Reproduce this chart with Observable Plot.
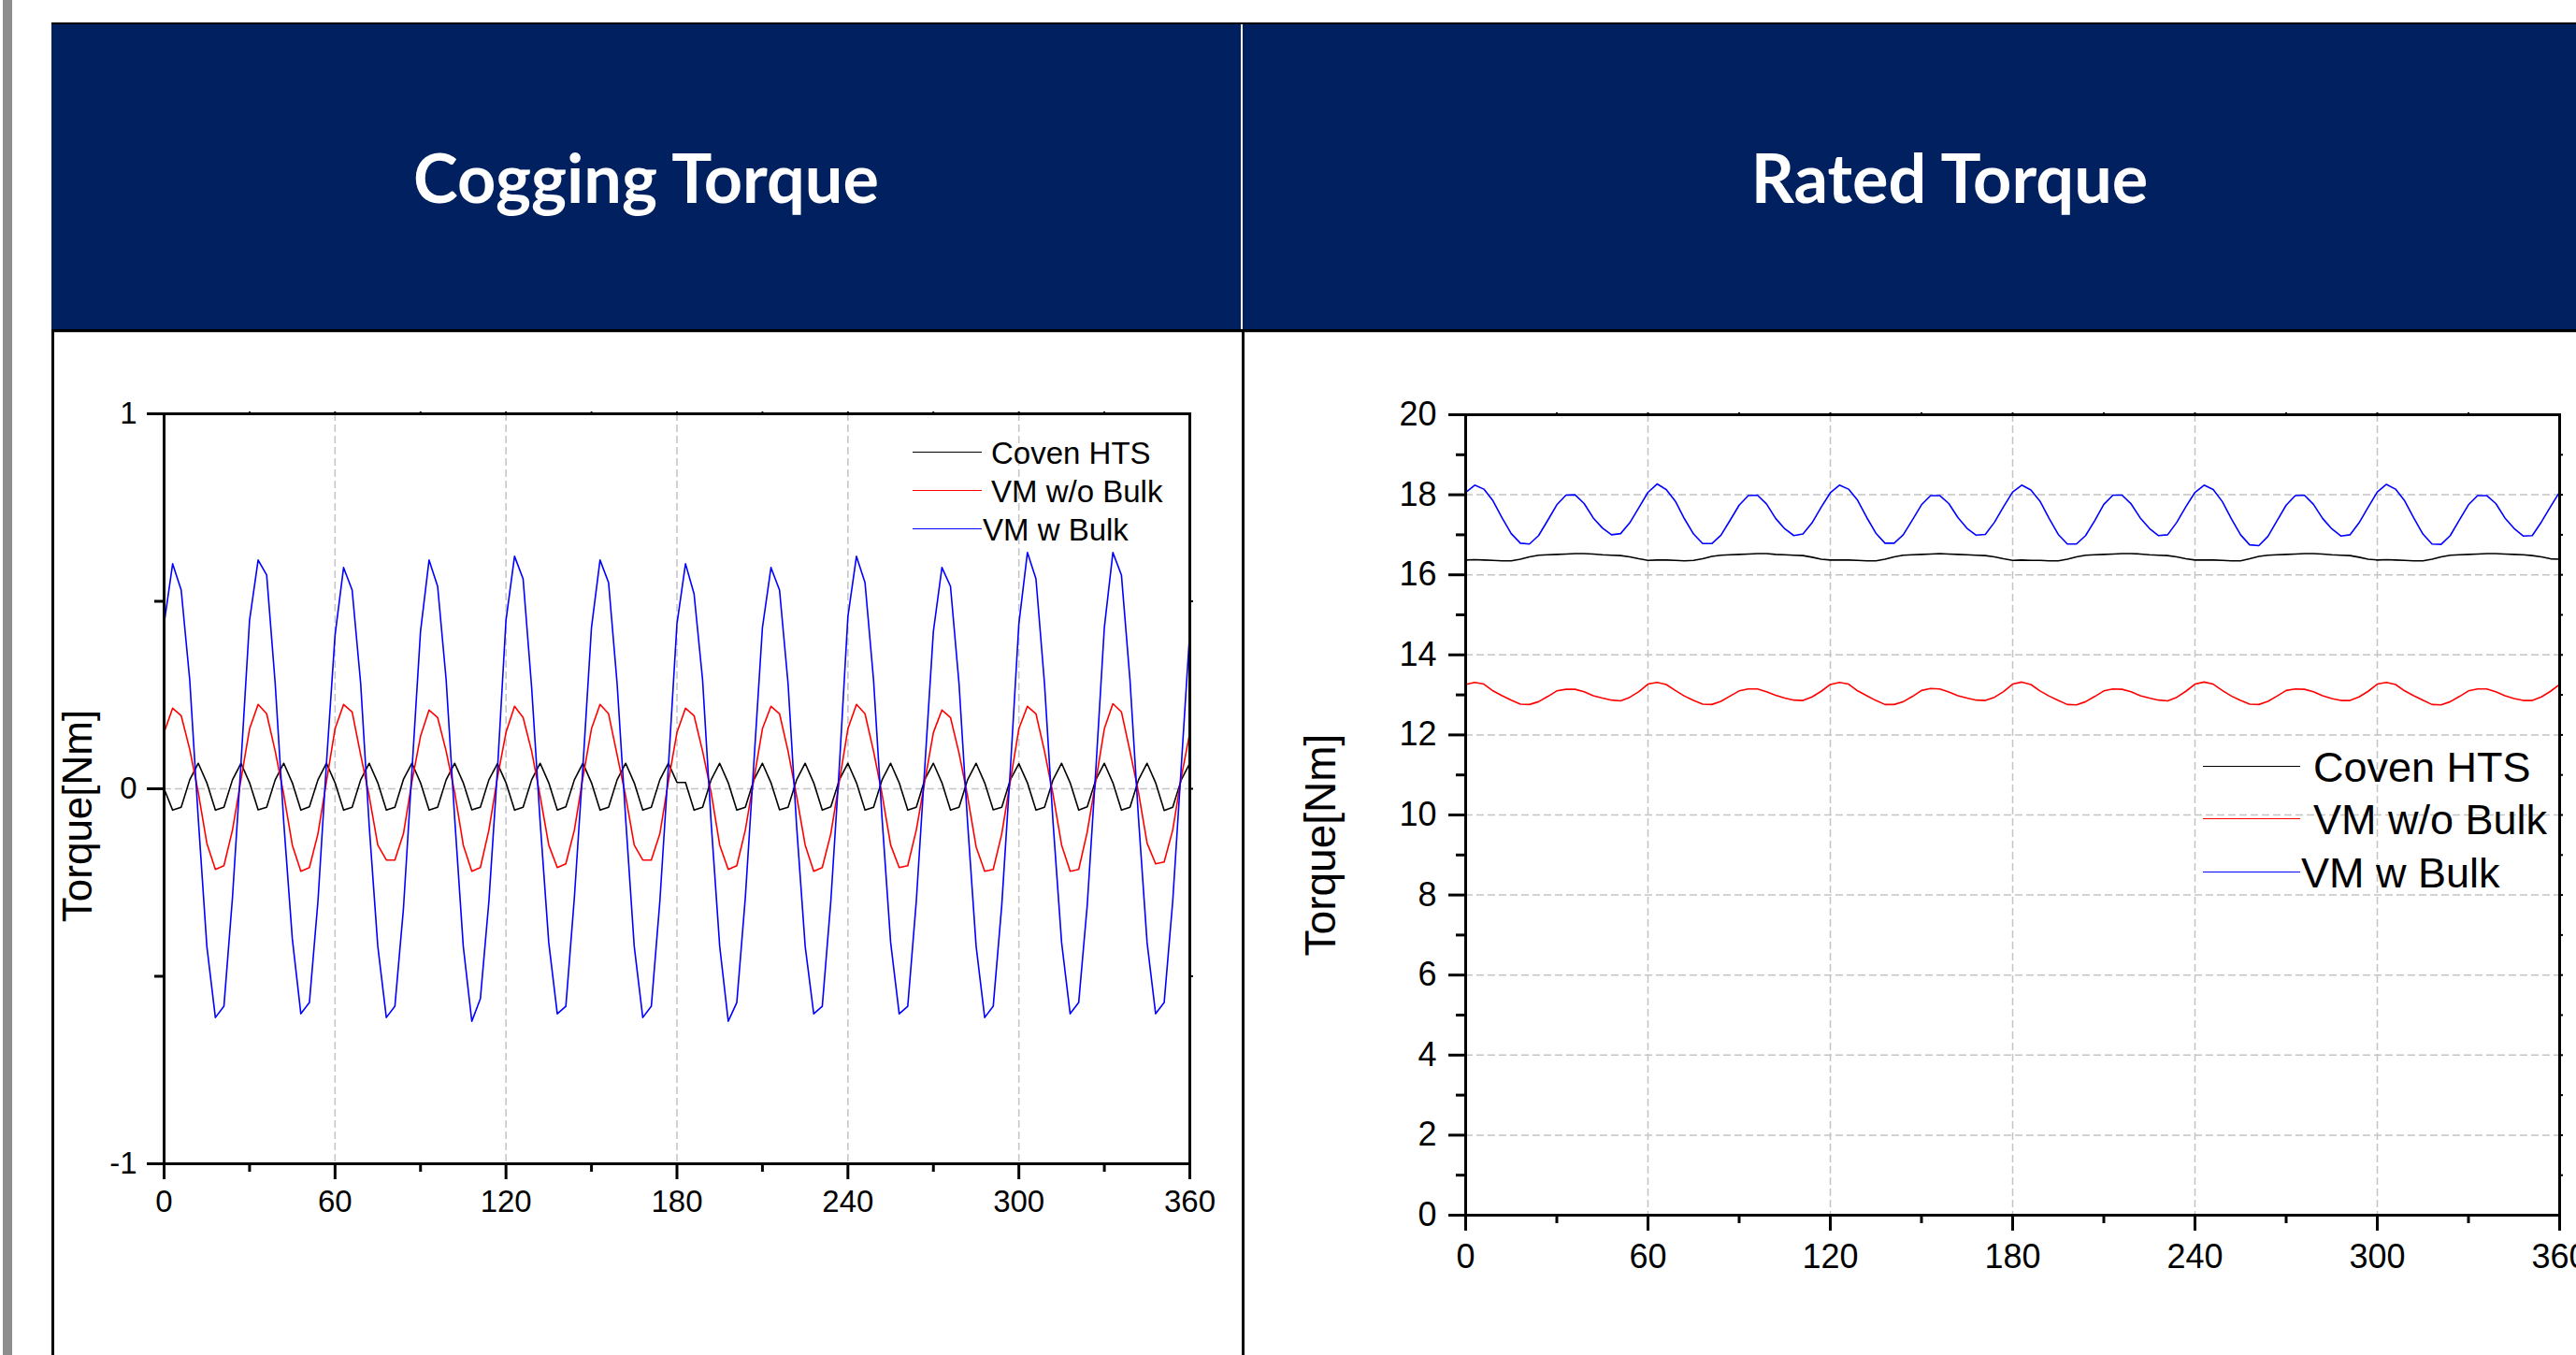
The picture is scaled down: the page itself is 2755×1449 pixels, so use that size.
<!DOCTYPE html>
<html>
<head>
<meta charset="utf-8">
<script src="https://cdn.jsdelivr.net/npm/d3@7"></script>
<script src="https://cdn.jsdelivr.net/npm/@observablehq/plot@0.6"></script>
<style>
  html, body { margin: 0; padding: 0; background: #ffffff; }
  body { width: 2755px; height: 1449px; position: relative; overflow: hidden; font-family: 'Liberation Sans', Arial, sans-serif; }
  .abs { position: absolute; }
  .title { position: absolute; color: #ffffff; font-family: Lato, 'Open Sans', sans-serif; font-weight: 700; font-size: 72px; line-height: 72px; text-align: center; white-space: nowrap; }
  .leg { position: absolute; color: #000; white-space: nowrap; font-family: 'Liberation Sans', Arial, sans-serif; }
</style>
</head>
<body>
<script>
// ---------------- DATA ----------------
const panelTitles = ["Cogging Torque", "Rated Torque"];
const yLabel = "Torque[Nm]";
const seriesNames = ["Coven HTS", "VM w/o Bulk", "VM w Bulk"];
const seriesColors = ["#000000", "#ff0000", "#0000ff"];

const angles = [0,3,6,9,12,15,18,21,24,27,30,33,36,39,42,45,48,51,54,57,60,63,66,69,72,75,78,81,84,87,90,93,96,99,102,105,108,111,114,117,120,123,126,129,132,135,138,141,144,147,150,153,156,159,162,165,168,171,174,177,180,183,186,189,192,195,198,201,204,207,210,213,216,219,222,225,228,231,234,237,240,243,246,249,252,255,258,261,264,267,270,273,276,279,282,285,288,291,294,297,300,303,306,309,312,315,318,321,324,327,330,333,336,339,342,345,348,351,354,357,360];

// Cogging torque [Nm]
const cogCoven = [0.000,
  -0.057,-0.049,0.024,0.068,0.016, -0.057,-0.049,0.024,0.068,0.016, -0.056,-0.049,0.024,0.068,0.016,
  -0.057,-0.048,0.024,0.068,0.016, -0.057,-0.049,0.024,0.068,0.016, -0.057,-0.049,0.025,0.068,0.016,
  -0.057,-0.049,0.024,0.068,0.016, -0.056,-0.049,0.024,0.067,0.016, -0.057,-0.049,0.024,0.068,0.016,
  -0.057,-0.048,0.024,0.068,0.016, -0.057,-0.049,0.024,0.068,0.016, -0.057,-0.049,0.024,0.068,0.017,
  0.017,-0.057,-0.049,0.024,0.068, 0.016,-0.057,-0.049,0.024,0.068, 0.016,-0.056,-0.049,0.024,0.068,
  0.016,-0.057,-0.048,0.024,0.068, 0.016,-0.057,-0.049,0.024,0.068, 0.016,-0.057,-0.049,0.025,0.068,
  0.016,-0.057,-0.049,0.024,0.068, 0.016,-0.056,-0.049,0.024,0.067, 0.016,-0.057,-0.049,0.024,0.068,
  0.016,-0.057,-0.048,0.024,0.068, 0.016,-0.057,-0.049,0.024,0.068, 0.016,-0.058,-0.049,0.024,0.068];

const cogVMwo = [
  0.150,0.215,0.195,0.105,-0.010,-0.145,-0.215,-0.205,-0.110,0.025,
  0.160,0.225,0.200,0.100,-0.015,-0.150,-0.220,-0.210,-0.120,0.020,
  0.160,0.225,0.205,0.090,-0.020,-0.150,-0.190,-0.190,-0.120,0.020,
  0.140,0.210,0.190,0.100,-0.010,-0.150,-0.220,-0.210,-0.110,0.030,
  0.150,0.220,0.190,0.100,-0.020,-0.150,-0.210,-0.200,-0.110,0.030,
  0.160,0.225,0.200,0.090,-0.020,-0.150,-0.190,-0.190,-0.120,0.020,
  0.150,0.215,0.195,0.100,-0.010,-0.150,-0.215,-0.205,-0.110,0.025,
  0.160,0.220,0.200,0.100,-0.020,-0.150,-0.220,-0.210,-0.120,0.020,
  0.160,0.225,0.200,0.100,-0.015,-0.150,-0.210,-0.205,-0.110,0.020,
  0.150,0.210,0.190,0.095,-0.020,-0.155,-0.220,-0.215,-0.120,0.020,
  0.160,0.220,0.200,0.100,-0.015,-0.150,-0.220,-0.215,-0.115,0.020,
  0.160,0.227,0.205,0.100,-0.010,-0.145,-0.200,-0.195,-0.110,0.030,
  0.150];

const cogVMw = [
  0.44,0.60,0.53,0.29,-0.08,-0.42,-0.61,-0.58,-0.29,0.07,
  0.45,0.61,0.57,0.28,-0.09,-0.40,-0.60,-0.57,-0.30,0.07,
  0.41,0.59,0.53,0.28,-0.10,-0.42,-0.61,-0.58,-0.32,0.05,
  0.42,0.61,0.54,0.29,-0.08,-0.42,-0.62,-0.56,-0.30,0.05,
  0.45,0.62,0.56,0.27,-0.09,-0.41,-0.60,-0.58,-0.29,0.06,
  0.43,0.61,0.55,0.28,-0.08,-0.42,-0.61,-0.58,-0.30,0.06,
  0.44,0.60,0.52,0.29,-0.09,-0.42,-0.62,-0.57,-0.29,0.07,
  0.43,0.59,0.53,0.28,-0.10,-0.42,-0.60,-0.58,-0.30,0.06,
  0.46,0.62,0.55,0.29,-0.08,-0.41,-0.60,-0.58,-0.30,0.06,
  0.42,0.59,0.54,0.28,-0.09,-0.42,-0.61,-0.58,-0.31,0.05,
  0.44,0.63,0.56,0.28,-0.09,-0.41,-0.60,-0.57,-0.31,0.05,
  0.43,0.63,0.57,0.29,-0.08,-0.41,-0.60,-0.57,-0.30,0.06,
  0.42];

// Rated torque [Nm]
const ratedCoven = [
  16.37,16.38,16.37,16.36,16.35,16.35,16.39,16.45,16.49,16.50,16.51,16.52,16.53,16.53,16.52,16.50,16.49,16.48,16.45,16.40,
  16.36,16.37,16.37,16.36,16.35,16.36,16.40,16.46,16.49,16.50,16.51,16.52,16.53,16.53,16.51,16.50,16.49,16.48,16.44,16.39,
  16.37,16.37,16.37,16.36,16.35,16.35,16.39,16.45,16.49,16.50,16.51,16.52,16.53,16.52,16.51,16.50,16.49,16.48,16.45,16.40,
  16.36,16.37,16.36,16.36,16.35,16.35,16.39,16.45,16.49,16.50,16.51,16.52,16.53,16.53,16.52,16.50,16.49,16.48,16.45,16.40,
  16.37,16.37,16.37,16.36,16.35,16.35,16.40,16.46,16.49,16.50,16.51,16.52,16.53,16.53,16.52,16.50,16.49,16.48,16.44,16.39,
  16.37,16.38,16.37,16.36,16.35,16.35,16.39,16.45,16.49,16.50,16.51,16.52,16.53,16.53,16.52,16.51,16.50,16.48,16.45,16.40,
  16.39];

const ratedVMwo = [
  13.26,13.31,13.27,13.10,12.98,12.87,12.77,12.76,12.83,12.96,13.10,13.14,13.14,13.08,12.98,12.92,12.87,12.85,12.94,13.08,
  13.27,13.31,13.26,13.11,12.97,12.86,12.77,12.76,12.84,12.97,13.10,13.15,13.15,13.08,12.99,12.92,12.87,12.86,12.95,13.09,
  13.26,13.31,13.27,13.10,12.98,12.86,12.76,12.76,12.83,12.96,13.11,13.16,13.15,13.07,12.98,12.92,12.87,12.86,12.94,13.08,
  13.27,13.32,13.26,13.10,12.97,12.86,12.76,12.75,12.83,12.96,13.10,13.15,13.14,13.08,12.98,12.92,12.87,12.85,12.94,13.09,
  13.27,13.32,13.27,13.11,12.97,12.86,12.77,12.76,12.84,12.97,13.11,13.15,13.14,13.08,12.98,12.91,12.86,12.86,12.95,13.09,
  13.27,13.31,13.26,13.10,12.98,12.87,12.76,12.75,12.83,12.96,13.10,13.15,13.15,13.08,12.98,12.91,12.86,12.86,12.95,13.09,
  13.26];

const ratedVMw = [
  18.06,18.24,18.14,17.85,17.42,17.03,16.79,16.77,16.98,17.36,17.75,17.99,18.00,17.78,17.42,17.17,17.00,17.03,17.30,17.68,
  18.06,18.27,18.13,17.84,17.40,17.02,16.78,16.78,16.99,17.36,17.74,17.98,17.99,17.77,17.41,17.15,16.98,17.02,17.30,17.69,
  18.05,18.24,18.14,17.86,17.43,17.04,16.79,16.79,17.00,17.37,17.75,17.98,17.98,17.78,17.43,17.16,16.99,17.01,17.31,17.70,
  18.07,18.24,18.12,17.84,17.41,17.01,16.77,16.77,16.98,17.35,17.76,17.99,17.99,17.77,17.42,17.16,16.98,17.00,17.31,17.70,
  18.06,18.24,18.13,17.83,17.40,17.00,16.75,16.73,16.96,17.35,17.74,17.98,17.99,17.76,17.41,17.15,16.97,17.00,17.30,17.69,
  18.07,18.26,18.14,17.85,17.42,17.02,16.77,16.76,16.98,17.37,17.75,17.98,17.98,17.78,17.42,17.16,16.97,16.98,17.32,17.70,
  18.07];

// ticks
const xMajor = [0,60,120,180,240,300,360];
const xMinor = [30,90,150,210,270,330];
const xTop = [30,60,90,120,150,180,210,240,270,300,330];
const xGrid = [60,120,180,240,300];
const cogYMajor = [-1,0,1];
const cogYMinor = [-0.5,0.5];
const cogYRight = [-0.5,0,0.5];
const cogYGrid = [0];
const ratedYMajor = [0,2,4,6,8,10,12,14,16,18,20];
const ratedYMinor = [1,3,5,7,9,11,13,15,17,19];
const ratedYRight = [1,2,3,4,5,6,7,8,9,10,11,12,13,14,15,16,17,18,19];
const ratedYGrid = [2,4,6,8,10,12,14,16,18];

// ---------------- LAYOUT ----------------
function box(l, t, w, h, bg, z) {
  const d = document.createElement("div");
  d.className = "abs";
  Object.assign(d.style, {left: l + "px", top: t + "px", width: w + "px", height: h + "px", background: bg, zIndex: z || 1});
  document.body.appendChild(d);
  return d;
}
// left grey strip
box(3, 0, 10, 1449, "#8e8e8e", 1);
// header
box(55, 24, 2700, 2, "#000000", 2);
box(55, 26, 2700, 326, "#002060", 1);
box(55, 352, 2700, 3, "#000000", 2);
box(55, 355, 2700, 1, "#c8c8c8", 2);
box(1327, 26, 2, 326, "#ffffff", 2);
// cell borders
box(55, 355, 3, 1094, "#000000", 5);
box(1328, 355, 3, 1094, "#000000", 5);

function title(text, cx, baseline) {
  const d = document.createElement("div");
  d.className = "title";
  d.textContent = text;
  Object.assign(d.style, {left: (cx - 600) + "px", width: "1200px", top: (baseline - 64) + "px", zIndex: 3});
  document.body.appendChild(d);
}
title(panelTitles[0], 691, 217);
title(panelTitles[1], 2085, 217);

function chart(cfg) {
  const lines = cfg.series.map((s, i) =>
    Plot.lineY(s, {x: angles, stroke: seriesColors[i], strokeWidth: 1.6}));
  const grid = {stroke: "#c4c4c4", strokeOpacity: 1, strokeWidth: 1.5, strokeDasharray: "8,4"};
  const svg = Plot.plot({
    width: cfg.width, height: cfg.height,
    marginLeft: cfg.ml, marginRight: cfg.mr, marginTop: cfg.mt, marginBottom: cfg.mb,
    x: {domain: [0, 360]},
    y: {domain: cfg.yDomain},
    style: {background: "transparent", overflow: "visible", fontFamily: "'Liberation Sans', Arial, sans-serif", color: "#000", maxWidth: "none"},
    marks: [
      Plot.gridX(xGrid, grid),
      Plot.gridY(cfg.yGrid, grid),
      ...lines,
      Plot.frame({stroke: "#000", strokeWidth: 3}),
      Plot.axisX(xMajor, {tickSize: 17, tickPadding: cfg.xPad, fontSize: cfg.fs, strokeWidth: 3, tickFormat: d => String(d), label: null}),
      Plot.axisX(xMinor, {tickSize: 9, strokeWidth: 3, tickFormat: () => "", label: null}),
      Plot.axisX(xTop, {anchor: "top", tickSize: 3, strokeWidth: 2, tickFormat: () => "", label: null}),
      Plot.axisY(cfg.yMajor, {tickSize: 18, tickPadding: cfg.yPad, fontSize: cfg.fs, strokeWidth: 3, tickFormat: d => String(d), label: null}),
      Plot.axisY(cfg.yMinor, {tickSize: 10, strokeWidth: 3, tickFormat: () => "", label: null}),
      Plot.axisY(cfg.yRight, {anchor: "right", tickSize: 3, strokeWidth: 2, tickFormat: () => "", label: null}),
      Plot.text([yLabel], {frameAnchor: "left", text: d => d, rotate: -90, textAnchor: "middle", lineAnchor: "middle", dx: cfg.labDx, dy: cfg.labDy, fontSize: cfg.labFs, fill: "#000"})
    ]
  });
  svg.style.position = "absolute";
  svg.style.left = cfg.left + "px";
  svg.style.top = cfg.top + "px";
  svg.style.zIndex = 4;
  document.body.appendChild(svg);
}

chart({
  left: 57, top: 355, width: 1272, height: 1094,
  ml: 118, mr: 57, mt: 87, mb: 205,
  yDomain: [-1, 1], yGrid: cogYGrid, yMajor: cogYMajor, yMinor: cogYMinor, yRight: cogYRight,
  series: [cogCoven, cogVMwo, cogVMw],
  fs: 33, xPad: 11, yPad: 11,
  labDx: -92, labDy: 29, labFs: 44
});

chart({
  left: 1329, top: 355, width: 1426, height: 1094,
  ml: 238, mr: 18, mt: 88, mb: 150,
  yDomain: [0, 20], yGrid: ratedYGrid, yMajor: ratedYMajor, yMinor: ratedYMinor, yRight: ratedYRight,
  series: [ratedCoven, ratedVMwo, ratedVMw],
  fs: 36, xPad: 14, yPad: 13,
  labDx: -154, labDy: 32, labFs: 46
});

// legends (inside plot areas)
function legend(items) {
  items.forEach(it => {
    const ln = document.createElement("div");
    ln.className = "abs";
    Object.assign(ln.style, {left: it.x1 + "px", top: (it.y - 0.8) + "px", width: (it.x2 - it.x1) + "px", height: "0px", borderTop: "1.6px solid " + it.color, zIndex: 6});
    document.body.appendChild(ln);
    const t = document.createElement("div");
    t.className = "leg";
    t.textContent = it.name;
    Object.assign(t.style, {left: it.tx + "px", top: (it.y - 0.4885 * it.fs) + "px", fontSize: it.fs + "px", lineHeight: it.fs + "px", zIndex: 6});
    document.body.appendChild(t);
  });
}
const leftLegY = [484, 525, 566], leftLegTx = [1060, 1060, 1051];
const rightLegY = [820, 876, 933], rightLegTx = [2474, 2474, 2461];
legend(seriesNames.map((n, i) => ({name: n, color: seriesColors[i], y: leftLegY[i], x1: 976, x2: 1050, tx: leftLegTx[i], fs: 33})));
legend(seriesNames.map((n, i) => ({name: n, color: seriesColors[i], y: rightLegY[i], x1: 2356, x2: 2460, tx: rightLegTx[i], fs: 45})));
</script>
</body>
</html>
